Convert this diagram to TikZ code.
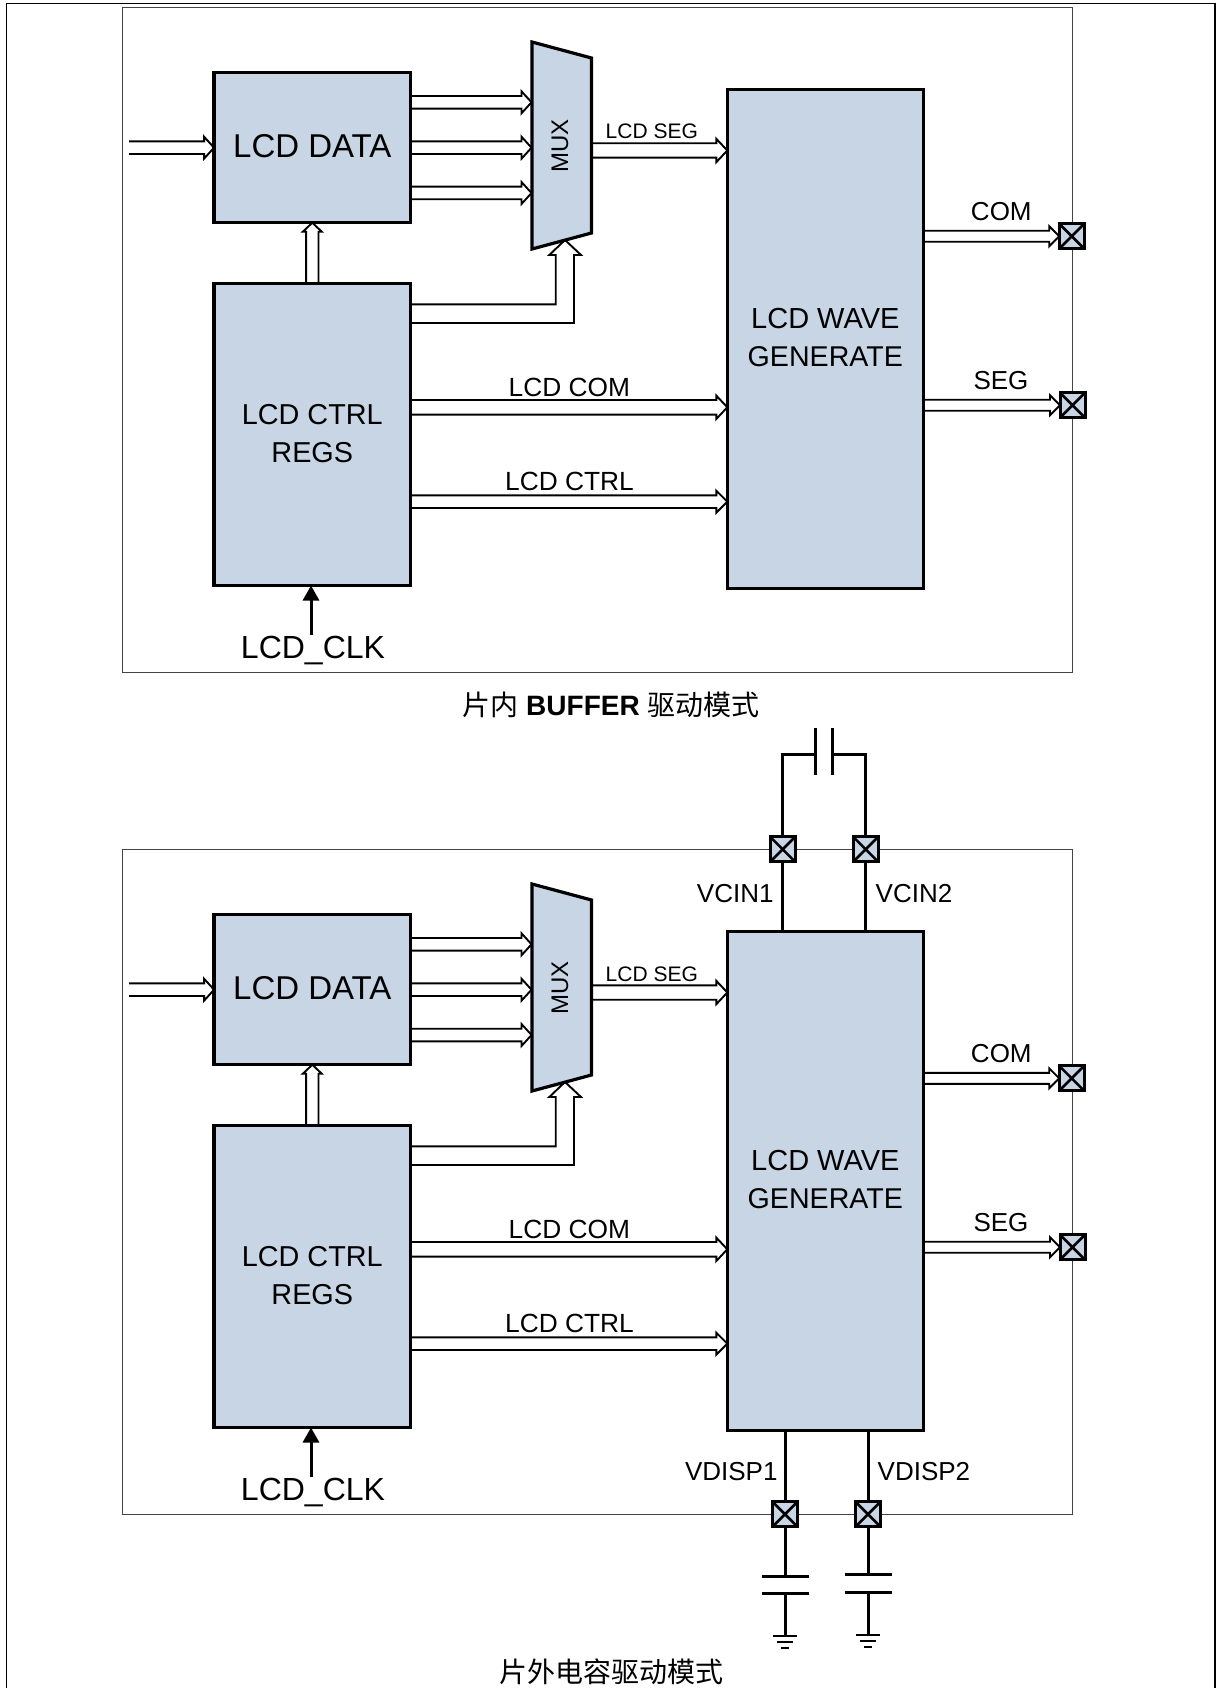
\documentclass[tikz,border=0pt]{standalone}
\usepackage{fontspec}
\setmainfont{Liberation Sans}
\newfontfamily\cjk{Noto Sans CJK SC}
\usetikzlibrary{calc,arrows.meta,backgrounds}
\definecolor{blockblue}{HTML}{C8D5E5}
\definecolor{panelgrey}{HTML}{444444}
\tikzset{
  x=1pt,y=-1pt,
  blockbox/.style={draw=black,line width=3.2pt,fill=blockblue,inner sep=0pt,outer sep=0pt,align=center},
  panelbox/.style={draw=panelgrey,line width=0.9pt,inner sep=0pt,outer sep=0pt,minimum width=950pt,minimum height=665pt},
  padbox/.style={draw=black,line width=3pt,fill=blockblue,inner sep=0pt,outer sep=0pt,minimum size=25pt,
    path picture={\draw[line width=2.6pt] (path picture bounding box.north west)--(path picture bounding box.south east)
      (path picture bounding box.north east)--(path picture bounding box.south west);}},
  busline/.style={draw=black,line width=1.9pt,fill=white,line join=miter},
  wire/.style={draw=black,line width=3pt},
  lbl/.style={inner sep=0pt,outer sep=0pt,anchor=base,font=\fontsize{#1}{#1}\selectfont},
}
% hollow bus arrow: from, to, shaft half width, barb half width, head length
\newcommand\busarrow[5]{%
  \draw[busline] ($(#1)!#3!90:(#2)$)
    -- ($(#2)!#5!(#1)!#3!90:(#2)$)
    -- ($(#2)!#5!(#1)!#4!90:(#2)$)
    -- (#2)
    -- ($(#2)!#5!(#1)!#4!-90:(#2)$)
    -- ($(#2)!#5!(#1)!#3!-90:(#2)$)
    -- ($(#1)!#3!-90:(#2)$);}
\begin{document}
\begin{tikzpicture}
\useasboundingbox (0,0) rectangle (1223,1688);
\begin{scope}[on background layer]
  \fill[white] (0,0) rectangle (1223,1688);
\end{scope}
\draw[black,line width=1.1pt] (6.5,1688) -- (6.5,3.5) -- (1215,3.5) -- (1215,1688);

\foreach \s/\off in {a/0,b/842}{
\begin{scope}[shift={(0,\off)}]
  \begin{scope}[on background layer]
    \node[panelbox] (panel\s) at (597,339.5) {};
  \end{scope}
  % blocks
  \node[blockbox,minimum width=196.5pt,minimum height=150.5pt,text depth=4pt,font=\fontsize{33}{38}\selectfont] (data\s) at (312.3,147.5) {LCD DATA};
  \node[blockbox,minimum width=196.5pt,minimum height=302pt,font=\fontsize{28.8}{38}\selectfont] (ctrl\s) at (312.3,434.5) {\raisebox{2pt}{LCD CTRL}\\\raisebox{2pt}{REGS}};
  \node[blockbox,minimum width=196pt,minimum height=499pt,font=\fontsize{29}{38}\selectfont] (wave\s) at (825.3,339) {\raisebox{3pt}{LCD WAVE}\\\raisebox{3pt}{\fontsize{28.6}{38}\selectfont GENERATE}};
  \draw[blockbox,line join=miter] (532,42) coordinate (mtl\s) -- (591.5,58) coordinate (mtr\s)
     -- (591.5,233) coordinate (mbr\s) -- (532,249) coordinate (mbl\s) -- cycle;
  \node[inner sep=0pt,rotate=90,font=\fontsize{24}{24}\selectfont] (mux\s) at (560,146) {MUX};
  \coordinate (mw\s) at (531.5,147);
  \coordinate (me\s) at (591.5,150.5);
  \coordinate (mtip\s) at (565,240);
  \coordinate (in\s) at (129,147.7);
  \coordinate (clk\s) at (311,635);
  % pads
  \node[padbox] (padcom\s) at (1071.7,236.3) {};
  \node[padbox] (padseg\s) at (1072.5,405.2) {};
  % connectors
  \begin{scope}[on background layer]
    \busarrow{in\s}{data\s.west |- in\s}{6.3pt}{11pt}{10pt}
    \busarrow{data\s.east |- 0,102.3}{mw\s |- 0,102.3}{6.3pt}{11pt}{10pt}
    \busarrow{data\s.east |- 0,147.7}{mw\s |- 0,147.7}{6.3pt}{11pt}{10pt}
    \busarrow{data\s.east |- 0,193}{mw\s |- 0,193}{6.3pt}{11pt}{10pt}
    \busarrow{ctrl\s.north}{data\s.south}{6.2pt}{9.5pt}{9pt}
    \draw[busline] (ctrl\s.east |- 0,304.3) -- (555.7,304.3) -- (555.7,255) -- (549.3,255) -- (mtip\s)
      -- (581,255) -- (574,255) -- (574,323) -- (ctrl\s.east |- 0,323);
    \busarrow{me\s}{wave\s.west |- me\s}{7.2pt}{11.7pt}{11pt}
    \busarrow{ctrl\s.east |- 0,407.3}{wave\s.west |- 0,407.3}{7.3pt}{11.7pt}{11pt}
    \busarrow{ctrl\s.east |- 0,501.7}{wave\s.west |- 0,501.7}{6.3pt}{11pt}{11pt}
    \busarrow{wave\s.east |- padcom\s}{padcom\s.west}{5.5pt}{10pt}{10pt}
    \busarrow{wave\s.east |- padseg\s}{padseg\s.west}{5.5pt}{10pt}{10pt}
  \end{scope}
  \draw[line width=3pt,-{Triangle[length=15pt,width=16pt]}] (clk\s) -- (clk\s |- ctrl\s.south);
  % labels
  \node[lbl=21] (tseg\s) at (651.8,139) {LCD SEG};
  \node[lbl=26.3] (tcom\s) at (569.3,396.7) {LCD COM};
  \node[lbl=26.3] (tctrl\s) at (569.5,490.7) {LCD CTRL};
  \node[lbl=26] (tocom\s) at (1001.3,220.7) {COM};
  \node[lbl=26] (toseg\s) at (1001,389) {SEG};
  \node[lbl=32] (tclk\s) at (313,658.3) {LCD\_CLK};
\end{scope}
}

% captions
\node[lbl=28] (capa) at (611,715) {{\cjk 片内} \textbf{BUFFER} {\cjk 驱动模式}};
\node[lbl=28] (capb) at (611,1682) {\cjk 片外电容驱动模式};

% VCIN pads and flying capacitor
\node[padbox] (pv1) at (782.7,849.3) {};
\node[padbox] (pv2) at (865.7,849.3) {};
\coordinate (capl) at (815.3,754.3);
\coordinate (capr) at (832.7,754.3);
\begin{scope}[on background layer]
  \draw[wire] (pv1) -- (pv1 |- waveb.north);
  \draw[wire] (pv2) -- (pv2 |- waveb.north);
  \draw[wire,line join=miter] (pv1) -- (pv1 |- capl) -- (capl);
  \draw[wire,line join=miter] (pv2) -- (pv2 |- capr) -- (capr);
\end{scope}
\draw[wire] ($(capl)+(0,-26.5)$) -- ($(capl)+(0,20.7)$);
\draw[wire] ($(capr)+(0,-26.5)$) -- ($(capr)+(0,20.7)$);
\node[lbl=26,anchor=base east] (tv1) at (773.5,902) {VCIN1};
\node[lbl=26,anchor=base west] (tv2) at (875.7,902) {VCIN2};

% VDISP pads, capacitors and grounds
\node[padbox] (pd1) at (785,1514.3) {};
\node[padbox] (pd2) at (868,1514.3) {};
\node[lbl=26,anchor=base east] (td1) at (777.5,1480.7) {VDISP1};
\node[lbl=26,anchor=base west] (td2) at (877.7,1480.7) {VDISP2};
\foreach \n/\t/\b/\g in {1/1576/1593.3/1636,2/1574.7/1592/1635}{
  \coordinate (ct\n) at (pd\n |- 0,\t);
  \coordinate (cb\n) at (pd\n |- 0,\b);
  \coordinate (g\n) at (pd\n |- 0,\g);
  \begin{scope}[on background layer]
    \draw[wire] (pd\n |- waveb.south) -- (pd\n);
    \draw[wire] (pd\n) -- (ct\n);
    \draw[wire] (cb\n) -- (g\n);
  \end{scope}
  \draw[wire] ($(ct\n)+(-23.5,0)$) -- ($(ct\n)+(23.5,0)$);
  \draw[wire] ($(cb\n)+(-23.5,0)$) -- ($(cb\n)+(23.5,0)$);
  \draw[line width=1.5pt] ($(g\n)+(-12,0)$) -- ($(g\n)+(12,0)$);
  \draw[line width=1.5pt] ($(g\n)+(-8,6)$) -- ($(g\n)+(8,6)$);
  \draw[line width=1.5pt] ($(g\n)+(-4,12)$) -- ($(g\n)+(4,12)$);
}
\end{tikzpicture}
\end{document}
